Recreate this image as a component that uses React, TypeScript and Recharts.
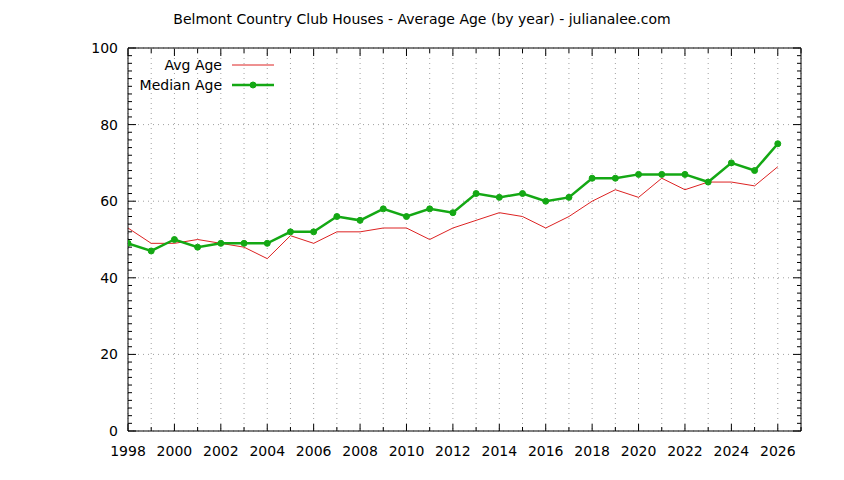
import { CartesianGrid, Legend, Line, LineChart, XAxis, YAxis } from "recharts";

const years = [
  1998, 1999, 2000, 2001, 2002, 2003, 2004, 2005, 2006, 2007, 2008, 2009, 2010, 2011, 2012,
  2013, 2014, 2015, 2016, 2017, 2018, 2019, 2020, 2021, 2022, 2023, 2024, 2025, 2026,
];
const avgAge = [
  53, 49, 49, 50, 49, 48, 45, 51, 49, 52, 52, 53, 53, 50, 53,
  55, 57, 56, 53, 56, 60, 63, 61, 66, 63, 65, 65, 64, 69,
];
const medianAge = [
  49, 47, 50, 48, 49, 49, 49, 52, 52, 56, 55, 58, 56, 58, 57,
  62, 61, 62, 60, 61, 66, 66, 67, 67, 67, 65, 70, 68, 75,
];
const xTicks = [
  1998, 1999, 2000, 2001, 2002, 2003, 2004, 2005, 2006, 2007, 2008, 2009, 2010, 2011, 2012,
  2013, 2014, 2015, 2016, 2017, 2018, 2019, 2020, 2021, 2022, 2023, 2024, 2025, 2026, 2027,
];
const yMajorTicks = [0, 20, 40, 60, 80, 100];
const yTicks = [
  0, 2, 4, 6, 8, 10, 12, 14, 16, 18, 20, 22, 24, 26, 28, 30, 32, 34, 36, 38, 40, 42, 44, 46, 48, 50,
  52, 54, 56, 58, 60, 62, 64, 66, 68, 70, 72, 74, 76, 78, 80, 82, 84, 86, 88, 90, 92, 94, 96, 98, 100,
];

const data = years.map((year, i) => ({ year, avg: avgAge[i], median: medianAge[i] }));

const FONT = "DejaVu Sans, sans-serif";
const RED = "#dd2222";
const GREEN = "#14a814";

const BottomTick = ({ x, y, payload }: any) => {
  const major = payload.value % 2 === 0;
  return (
    <g>
      <line x1={x} x2={x} y1={y} y2={y - (major ? 7 : 4)} stroke="#000" />
      {major && payload.value <= 2026 && (
        <text x={x} y={y + 25} textAnchor="middle" fontFamily={FONT} fontSize={14} fill="#000">
          {payload.value}
        </text>
      )}
    </g>
  );
};

const TopTick = ({ x, y, payload }: any) => {
  const major = payload.value % 2 === 0;
  return <line x1={x} x2={x} y1={y + 1} y2={y + 1 + (major ? 7 : 4)} stroke="#000" />;
};

const LeftTick = ({ x, y, payload }: any) => {
  const major = payload.value % 20 === 0;
  return (
    <g>
      <line x1={x} x2={x + (major ? 8 : 4)} y1={y} y2={y} stroke="#000" />
      {major && (
        <text x={x - 10} y={y + 5} textAnchor="end" fontFamily={FONT} fontSize={14} fill="#000">
          {payload.value}
        </text>
      )}
    </g>
  );
};

const RightTick = ({ x, y, payload }: any) => {
  const major = payload.value % 20 === 0;
  return <line x1={x} x2={x - (major ? 8 : 4)} y1={y} y2={y} stroke="#000" />;
};

const LegendBox = () => (
  <svg width={190} height={46}>
    <text x={122} y={18} textAnchor="end" fontFamily={FONT} fontSize={14} fill="#000">
      Avg Age
    </text>
    <line x1={132} x2={174} y1={13} y2={13} stroke={RED} strokeWidth={1} />
    <text x={122} y={38} textAnchor="end" fontFamily={FONT} fontSize={14} fill="#000">
      Median Age
    </text>
    <line x1={132} x2={174} y1={33} y2={33} stroke={GREEN} strokeWidth={2.5} />
    <circle cx={153} cy={33} r={3} fill={GREEN} stroke={GREEN} />
  </svg>
);

export default function App() {
  return (
    <div style={{ position: "absolute", left: 0, top: 0, width: 844, height: 480, background: "#fff", fontFamily: FONT }}>
      <div
        style={{
          position: "absolute",
          top: 10,
          left: 0,
          width: 844,
          textAlign: "center",
          fontSize: 14,
          lineHeight: "18px",
          color: "#000",
        }}
      >
        Belmont Country Club Houses - Average Age (by year) - julianalee.com
      </div>
      <LineChart width={844} height={480} data={data} margin={{ top: 47, right: 42, bottom: 19, left: 88 }}>
        <CartesianGrid
          xAxisId="bottom"
          yAxisId="left"
          stroke="#a0a0a0"
          strokeDasharray="1 4"
          horizontalValues={yMajorTicks}
        />
        <XAxis
          xAxisId="bottom"
          dataKey="year"
          type="number"
          domain={[1998, 2027]}
          allowDataOverflow
          ticks={xTicks}
          interval={0}
          height={30}
          tickSize={0}
          tickMargin={0}
          tickLine={false}
          axisLine={{ stroke: "#000" }}
          tick={<BottomTick />}
        />
        <XAxis
          xAxisId="top"
          orientation="top"
          dataKey="year"
          type="number"
          domain={[1998, 2027]}
          allowDataOverflow
          ticks={xTicks}
          interval={0}
          height={1}
          tickSize={0}
          tickMargin={0}
          tickLine={false}
          axisLine={{ stroke: "#000" }}
          tick={<TopTick />}
        />
        <YAxis
          yAxisId="left"
          type="number"
          domain={[0, 100]}
          allowDataOverflow
          ticks={yTicks}
          interval={0}
          width={40}
          tickSize={0}
          tickMargin={0}
          tickLine={false}
          axisLine={{ stroke: "#000" }}
          tick={<LeftTick />}
        />
        <YAxis
          yAxisId="right"
          orientation="right"
          type="number"
          domain={[0, 100]}
          allowDataOverflow
          ticks={yTicks}
          interval={0}
          width={1}
          tickSize={0}
          tickMargin={0}
          tickLine={false}
          axisLine={{ stroke: "#000" }}
          tick={<RightTick />}
        />
        <Legend
          layout="vertical"
          align="center"
          verticalAlign="middle"
          wrapperStyle={{ left: 100, top: 52, width: 190 }}
          content={() => <LegendBox />}
        />
        <Line
          xAxisId="bottom"
          yAxisId="left"
          dataKey="avg"
          type="linear"
          stroke={RED}
          strokeWidth={1}
          dot={false}
          isAnimationActive={false}
        />
        <Line
          xAxisId="bottom"
          yAxisId="left"
          dataKey="median"
          type="linear"
          stroke={GREEN}
          strokeWidth={2.5}
          dot={{ r: 3, fill: GREEN, stroke: GREEN, strokeWidth: 1 }}
          isAnimationActive={false}
        />
      </LineChart>
    </div>
  );
}
